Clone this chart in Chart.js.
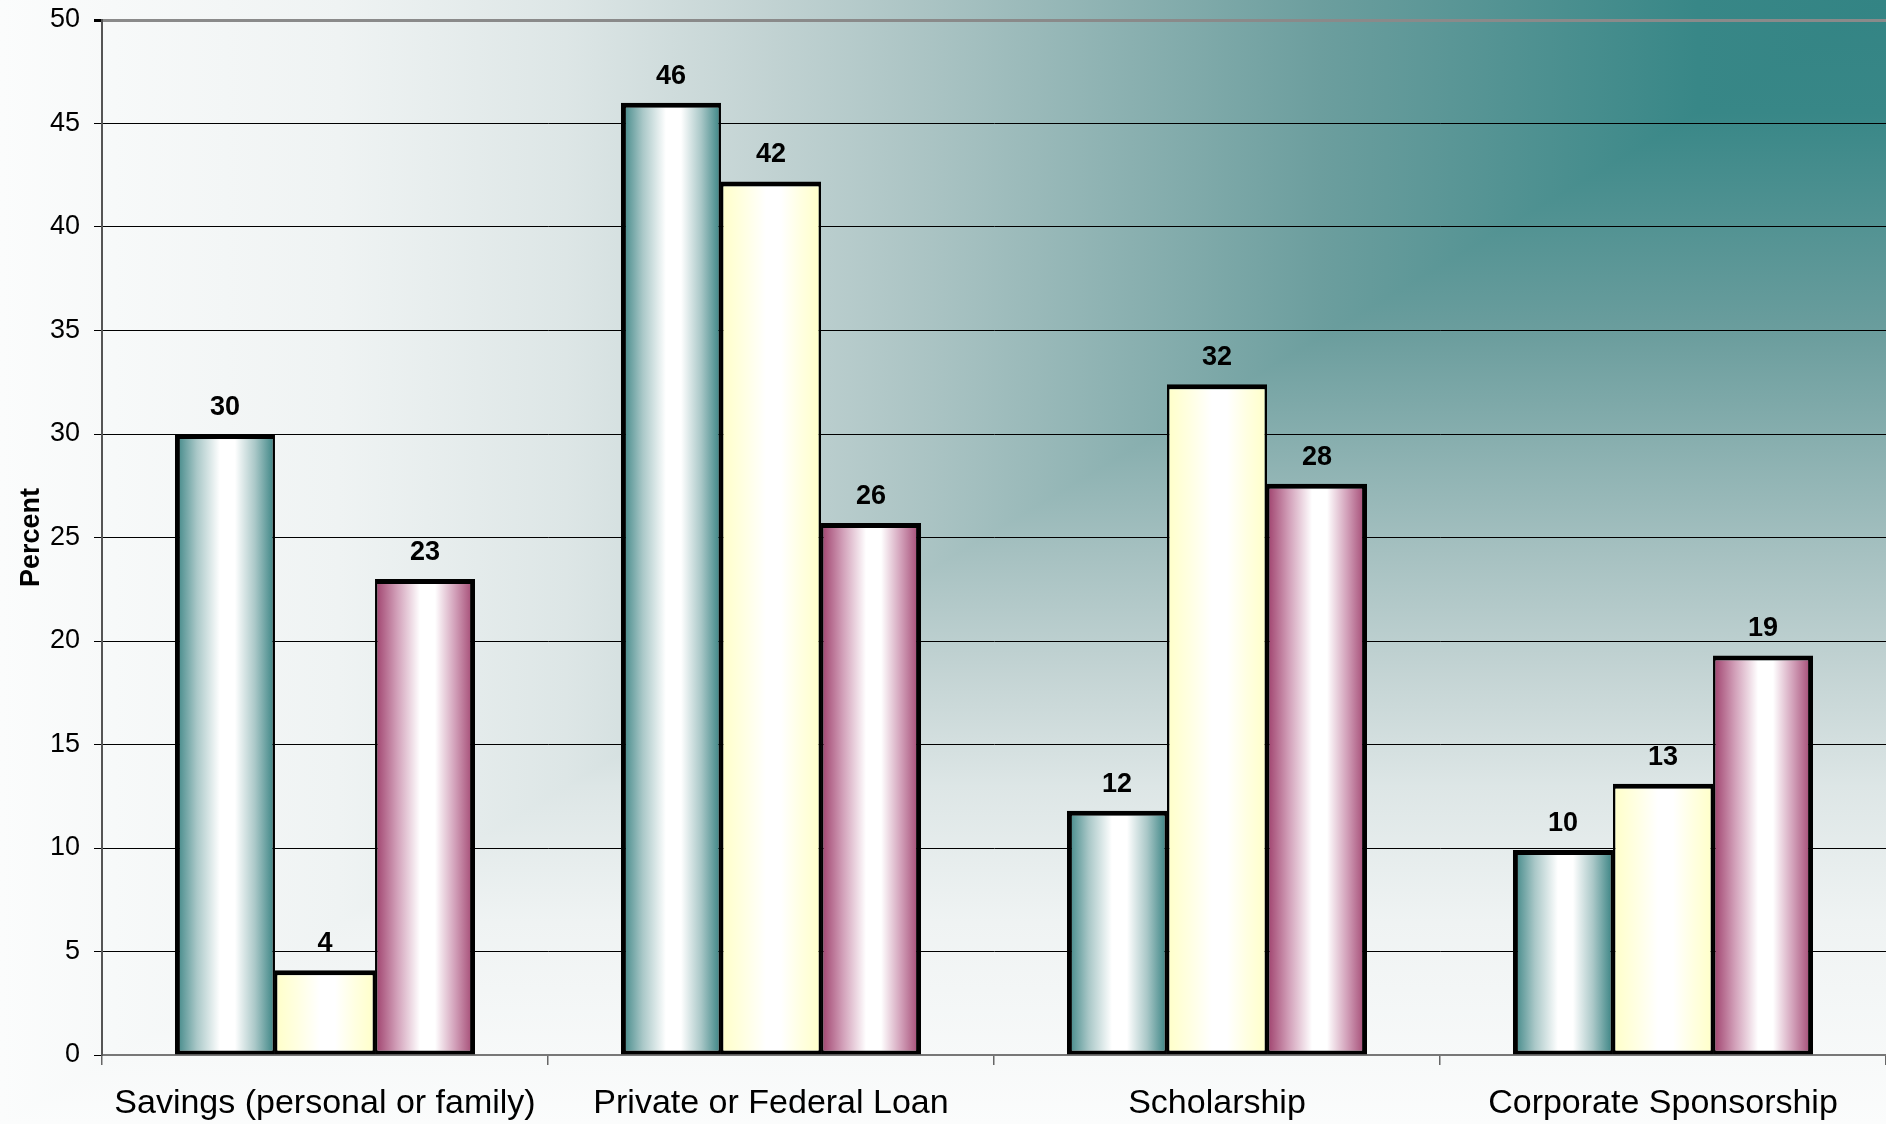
<!DOCTYPE html>
<html>
<head>
<meta charset="utf-8">
<script src="https://cdn.jsdelivr.net/npm/chart.js@4.4.1/dist/chart.umd.min.js"></script>
<style>
  html, body { margin: 0; padding: 0; overflow: hidden; background: #fff; }
  canvas { display: block; }
</style>
</head>
<body>
<canvas id="chart" width="1886" height="1124"></canvas>
<script>
// data
const categories = ['Savings (personal or family)', 'Private or Federal Loan', 'Scholarship', 'Corporate Sponsorship'];
const seriesNames = ['Series 1', 'Series 2', 'Series 3'];
const series1 = [30, 46, 11.8, 9.9];
const series2 = [4.1, 42.2, 32.4, 13.1];
const series3 = [23, 25.7, 27.6, 19.3];
const yTicks = [0, 5, 10, 15, 20, 25, 30, 35, 40, 45, 50];

const FONT = '"Liberation Sans", Arial, sans-serif';
const CAT_PCT = 0.673;

// edge colour -> white in the middle -> edge colour
function barFill(edge, inner) {
  return function (ctx) {
    const chart = ctx.chart;
    const xs = chart.scales.x;
    if (ctx.type !== 'data' || !xs || !xs.width) return edge;
    const slot = (xs.width / categories.length) * CAT_PCT / 3;
    const center = xs.getPixelForValue(ctx.dataIndex) + (ctx.datasetIndex - 1) * slot;
    const left = center - slot / 2;
    const g = chart.ctx.createLinearGradient(left, 0, left + slot, 0);
    g.addColorStop(0, edge);
    g.addColorStop(0.22, inner);
    g.addColorStop(0.45, '#ffffff');
    g.addColorStop(0.6, '#ffffff');
    g.addColorStop(0.8, inner);
    g.addColorStop(1, edge);
    return g;
  };
}

const bgPlugin = {
  id: 'bg',
  beforeDraw(chart) {
    const { ctx, width: W, height: H } = chart;
    const stops = [[0, '#338484'], [0.1, '#388787'], [0.3, '#6c9e9e'], [0.5, '#a8c2c2'],
                   [0.6, '#c4d4d4'], [0.7, '#dde6e6'], [0.82, '#eff3f3'], [1, '#fbfcfc']];
    ctx.save();
    // whole page: colour depends on distance from right edge
    let g = ctx.createLinearGradient(W, 0, 0, 0);
    stops.forEach(s => g.addColorStop(s[0], s[1]));
    ctx.fillStyle = g;
    ctx.fillRect(0, 0, W, H);
    // lower-right triangle: colour depends on distance from top edge
    ctx.beginPath();
    ctx.moveTo(W, 0); ctx.lineTo(W, H); ctx.lineTo(0, H); ctx.closePath();
    g = ctx.createLinearGradient(0, 0, 0, H);
    stops.forEach(s => g.addColorStop(s[0], s[1]));
    ctx.fillStyle = g;
    ctx.fill();
    ctx.restore();
  }
};

const valueLabels = {
  id: 'valueLabels',
  afterDatasetsDraw(chart) {
    const ctx = chart.ctx;
    ctx.save();
    ctx.font = 'bold 27px ' + FONT;
    ctx.fillStyle = '#000';
    ctx.textAlign = 'center';
    ctx.textBaseline = 'alphabetic';
    chart.data.datasets.forEach((ds, i) => {
      chart.getDatasetMeta(i).data.forEach((bar, j) => {
        ctx.fillText(String(Math.round(ds.data[j])), bar.x, bar.y - 19);
      });
    });
    ctx.restore();
  }
};

new Chart(document.getElementById('chart'), {
  type: 'bar',
  data: {
    labels: categories,
    datasets: [
      { label: seriesNames[0], data: series1,
        backgroundColor: barFill('rgb(56,130,130)', 'rgb(170,200,200)'),
        borderWidth: { top: 5, left: 5, right: 2.5, bottom: 4 } },
      { label: seriesNames[1], data: series2,
        backgroundColor: barFill('rgb(255,255,200)', 'rgb(255,255,225)'),
        borderWidth: { top: 5, left: 2.5, right: 2.5, bottom: 4 } },
      { label: seriesNames[2], data: series3,
        backgroundColor: barFill('rgb(158,64,108)', 'rgb(210,160,185)'),
        borderWidth: { top: 5, left: 2.5, right: 5, bottom: 4 } }
    ]
  },
  options: {
    responsive: false,
    animation: false,
    events: [],
    layout: { padding: { top: 20, right: 0, left: 0, bottom: 0 } },
    datasets: {
      bar: {
        categoryPercentage: CAT_PCT,
        barPercentage: 1,
        borderColor: '#000',
        borderSkipped: false
      }
    },
    plugins: {
      legend: { display: false },
      tooltip: { enabled: false }
    },
    scales: {
      x: {
        offset: true,
        grid: {
          offset: true,
          drawOnChartArea: false,
          drawTicks: true,
          tickLength: 10,
          color: '#666',
          lineWidth: 1.5
        },
        border: { color: '#777', width: 2 },
        ticks: {
          color: '#000',
          padding: 18,
          maxRotation: 0,
          autoSkip: false,
          font: { family: FONT, size: 34 }
        },
        afterFit(scale) {
          scale.height = 69;
          scale.paddingLeft = 0;
          scale.paddingRight = 0;
        }
      },
      y: {
        min: yTicks[0],
        max: yTicks[yTicks.length - 1],
        afterBuildTicks(scale) { scale.ticks = yTicks.map(v => ({ value: v })); },
        grid: {
          color: c => (c.tick && c.tick.value === 50) ? '#8a8a8a' : (c.tick && c.tick.value === 0 ? '#777' : '#000'),
          lineWidth: c => (c.tick && c.tick.value === 50) ? 3 : 1,
          tickColor: '#000',
          tickLength: 8
        },
        border: { color: '#555', width: 2 },
        ticks: {
          color: '#000',
          padding: 14,
          font: { family: FONT, size: 27 }
        },
        title: {
          display: true,
          text: 'Percent',
          color: '#000',
          padding: { top: 15, bottom: 0 },
          font: { family: FONT, size: 27, weight: 'bold' }
        },
        afterFit(scale) {
          scale.width = 102;
          scale.paddingTop = 0;
          scale.paddingBottom = 0;
        }
      }
    }
  },
  plugins: [bgPlugin, valueLabels]
});
</script>
</body>
</html>
